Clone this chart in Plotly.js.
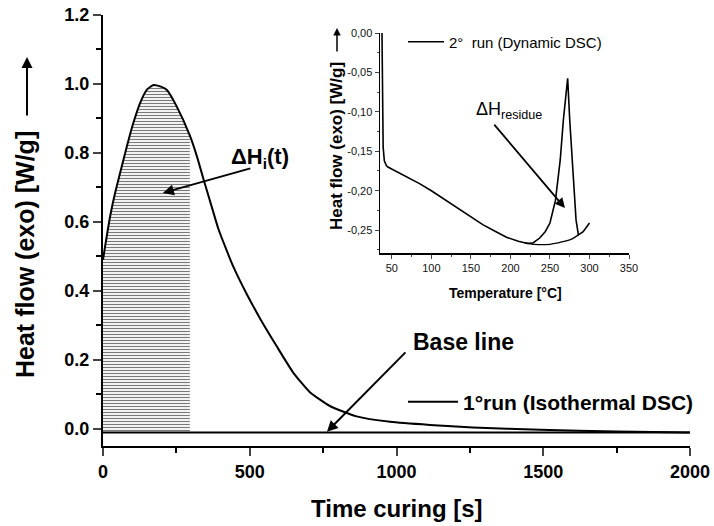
<!DOCTYPE html>
<html>
<head>
<meta charset="utf-8">
<script src="https://cdn.plot.ly/plotly-3.0.1.min.js"></script>
<style>html,body{margin:0;padding:0;background:#fff;}#chart{width:714px;height:526px;}</style>
</head>
<body>
<div id="chart"></div>
<script>
// ---- Main plot: isothermal DSC (1st run) ----
const timeS = [0, 7, 24, 41, 58, 81, 103, 126, 149, 172, 195, 217, 251, 296, 320, 342, 370, 393, 420, 444, 490, 535, 592, 648, 705, 773, 864, 978, 1114, 1260, 1490, 1750, 2000];
const heatFlow = [0.49, 0.528, 0.615, 0.683, 0.741, 0.818, 0.886, 0.944, 0.983, 0.997, 0.993, 0.983, 0.935, 0.85, 0.79, 0.725, 0.645, 0.58, 0.52, 0.47, 0.39, 0.32, 0.239, 0.163, 0.106, 0.066, 0.036, 0.02, 0.011, 0.004, -0.003, -0.008, -0.011];
const baseX = [0, 2000];
const baseY = [-0.011, -0.011];
const hatchEnd = 296;

// ---- Inset: dynamic DSC (2nd run) ----
const tempC = [37.5, 37.8, 38.2, 39, 40.5, 43, 45, 55, 70, 85, 100, 115, 132, 150, 165, 180, 195, 210, 222, 229, 237, 244, 250, 257, 263, 267, 270, 272.4, 275, 279.5, 283, 286, 292, 300];
const dynFlow = [0.0, -0.06, -0.11, -0.145, -0.162, -0.168, -0.170, -0.175, -0.183, -0.191, -0.200, -0.210, -0.221, -0.233, -0.243, -0.251, -0.259, -0.264, -0.267, -0.266, -0.26, -0.252, -0.241, -0.212, -0.161, -0.11, -0.075, -0.0575, -0.11, -0.174, -0.237, -0.256, -0.252, -0.241];
const resBaseT = [218, 230, 250, 265, 278, 286];
const resBaseY = [-0.266, -0.268, -0.268, -0.265, -0.261, -0.256];
const insetYTicks = [0.0, -0.05, -0.10, -0.15, -0.20, -0.25];
const insetYLabels = ["0,00", "-0,05", "-0,10", "-0,15", "-0,20", "-0,25"];

// hatched area subset
const hx = [], hy = [];
for (let i = 0; i < timeS.length; i++) { if (timeS[i] <= hatchEnd) { hx.push(timeS[i]); hy.push(heatFlow[i]); } }

// pixel -> paper helpers for layout placement (plot area 103..690 x 15..446)
const L = 103, R = 690, T = 15, B = 446;
const px = v => (v - L) / (R - L);
const py = v => 1 - (v - T) / (B - T);

const FONT = "Liberation Sans, Arial, sans-serif";

const traces = [
  {x: [0, hatchEnd], y: [baseY[0], baseY[0]], mode: 'lines', line: {width: 0, color: 'rgba(0,0,0,0)'}, showlegend: false, hoverinfo: 'skip', xaxis: 'x', yaxis: 'y'},
  {x: hx, y: hy, mode: 'lines', fill: 'tonexty', line: {width: 0, shape: 'spline', smoothing: 0.5, color: 'rgba(0,0,0,0)'},
   fillcolor: 'rgba(0,0,0,0)',
   fillpattern: {shape: '-', size: 3, solidity: 0.4, fgcolor: '#7a7a7a', bgcolor: 'rgba(255,255,255,0)'},
   showlegend: false, hoverinfo: 'skip', xaxis: 'x', yaxis: 'y'},
  {x: baseX, y: baseY, mode: 'lines', line: {color: '#000', width: 2}, showlegend: false, xaxis: 'x', yaxis: 'y'},
  {x: timeS, y: heatFlow, mode: 'lines', name: '1°run (Isothermal DSC)', line: {color: '#000', width: 2, shape: 'spline', smoothing: 0.5}, legend: 'legend', xaxis: 'x', yaxis: 'y'},
  {x: resBaseT, y: resBaseY, mode: 'lines', line: {color: '#000', width: 1.3, shape: 'spline', smoothing: 0.5}, showlegend: false, xaxis: 'x2', yaxis: 'y2'},
  {x: tempC, y: dynFlow, mode: 'lines', name: '2°  run (Dynamic DSC)', line: {color: '#000', width: 1.6}, legend: 'legend2', xaxis: 'x2', yaxis: 'y2'}
];

const layout = {
  width: 714, height: 526,
  margin: {l: L, r: 714 - R, t: T, b: 526 - B},
  paper_bgcolor: '#fff', plot_bgcolor: 'rgba(0,0,0,0)',
  font: {family: FONT, color: '#000'},
  xaxis: {range: [0, 2000], dtick: 500, tick0: 0, showline: true, linewidth: 2, linecolor: '#000', ticks: 'outside', ticklen: 8, tickwidth: 2,
          minor: {dtick: 250, ticks: 'outside', ticklen: 5, tickwidth: 2, tickcolor: '#000'},
          showgrid: false, zeroline: false, tickfont: {size: 18, weight: 'bold', family: FONT}},
  yaxis: {range: [-0.05, 1.2], dtick: 0.2, tick0: 0, tickformat: '.1f', showline: true, linewidth: 2, linecolor: '#000', ticks: 'outside', ticklen: 8, tickwidth: 2,
          minor: {dtick: 0.1, ticks: 'outside', ticklen: 5, tickwidth: 2, tickcolor: '#000'},
          showgrid: false, zeroline: false, tickfont: {size: 18, weight: 'bold', family: FONT}},
  xaxis2: {domain: [px(380), px(629)], anchor: 'y2', range: [35, 350], dtick: 50, tick0: 0, showline: true, linewidth: 1.5, linecolor: '#000',
           ticks: 'outside', ticklen: 4, tickwidth: 1, minor: {dtick: 25, ticks: 'outside', ticklen: 2, tickwidth: 1},
           showgrid: false, zeroline: false, tickfont: {size: 11, family: FONT, color: '#111'}},
  yaxis2: {domain: [py(253), py(33)], anchor: 'x2', range: [-0.279, 0.0], tickvals: insetYTicks, ticktext: insetYLabels, showline: true, linewidth: 1.5, linecolor: '#000',
           ticks: 'outside', ticklen: 4, tickwidth: 1, minor: {tickvals: [-0.275, -0.225, -0.175, -0.125, -0.075, -0.025], ticks: 'outside', ticklen: 2, tickwidth: 1},
           showgrid: false, zeroline: false, tickfont: {size: 11, family: FONT, color: '#111'}},
  legend: {x: px(403), y: py(402), xanchor: 'left', yanchor: 'middle', bgcolor: 'rgba(0,0,0,0)', borderwidth: 0,
           itemwidth: 50, font: {size: 21, weight: 'bold', family: FONT}},
  legend2: {x: px(403), y: py(42), xanchor: 'left', yanchor: 'middle', bgcolor: 'rgba(0,0,0,0)', borderwidth: 0,
            itemwidth: 36, font: {size: 15, family: FONT}},
  annotations: [
    {xref: 'paper', yref: 'paper', x: px(25), y: py(255), text: 'Heat flow (exo) [W/g]', textangle: -90, showarrow: false,
     font: {size: 25, weight: 'bold', family: FONT}, xanchor: 'center', yanchor: 'middle'},
    {xref: 'paper', yref: 'paper', x: px(27), y: py(57), ax: 0, ay: 60, text: '', showarrow: true, arrowhead: 2, arrowsize: 1.1, arrowwidth: 2, arrowcolor: '#000'},
    {xref: 'paper', yref: 'paper', x: 0.5, y: py(508), text: 'Time curing [s]', showarrow: false,
     font: {size: 24, weight: 'bold', family: FONT}, xanchor: 'center', yanchor: 'middle'},
    {xref: 'paper', yref: 'paper', x: px(336), y: py(146), text: 'Heat flow (exo) [W/g]', textangle: -90, showarrow: false,
     font: {size: 17, weight: 'bold', family: FONT}, xanchor: 'center', yanchor: 'middle'},
    {xref: 'paper', yref: 'paper', x: px(337), y: py(28), ax: 0, ay: 25, text: '', showarrow: true, arrowhead: 2, arrowsize: 1, arrowwidth: 1.5, arrowcolor: '#000'},
    {xref: 'paper', yref: 'paper', x: px(505), y: py(293), text: 'Temperature [°C]', showarrow: false,
     font: {size: 14, weight: 'bold', family: FONT}, xanchor: 'center', yanchor: 'middle'},
    {xref: 'paper', yref: 'paper', x: px(229), y: py(158), text: 'ΔH<sub>i</sub>(t)', showarrow: false,
     font: {size: 22, weight: 'bold', family: FONT}, xanchor: 'left', yanchor: 'middle'},
    {xref: 'x', yref: 'y', x: 204, y: 0.684, ax: 89, ay: -25, text: '', showarrow: true, arrowhead: 2, arrowsize: 1.1, arrowwidth: 2, arrowcolor: '#000'},
    {xref: 'paper', yref: 'paper', x: px(411), y: py(342), text: 'Base line', showarrow: false,
     font: {size: 23, weight: 'bold', family: FONT}, xanchor: 'left', yanchor: 'middle'},
    {xref: 'x', yref: 'y', x: 763, y: -0.009, ax: 80, ay: -81, text: '', showarrow: true, arrowhead: 2, arrowsize: 1.1, arrowwidth: 2, arrowcolor: '#000'},
    {xref: 'paper', yref: 'paper', x: px(474), y: py(110), text: 'ΔH<sub>residue</sub>', showarrow: false,
     font: {size: 18, family: FONT}, xanchor: 'left', yanchor: 'middle'},
    {xref: 'x2', yref: 'y2', x: 269, y: -0.222, ax: -72, ay: -85, text: '', showarrow: true, arrowhead: 2, arrowsize: 1.1, arrowwidth: 1.8, arrowcolor: '#000'}
  ]
};

Plotly.newPlot('chart', traces, layout, {staticPlot: true, displayModeBar: false});
</script>
</body>
</html>
